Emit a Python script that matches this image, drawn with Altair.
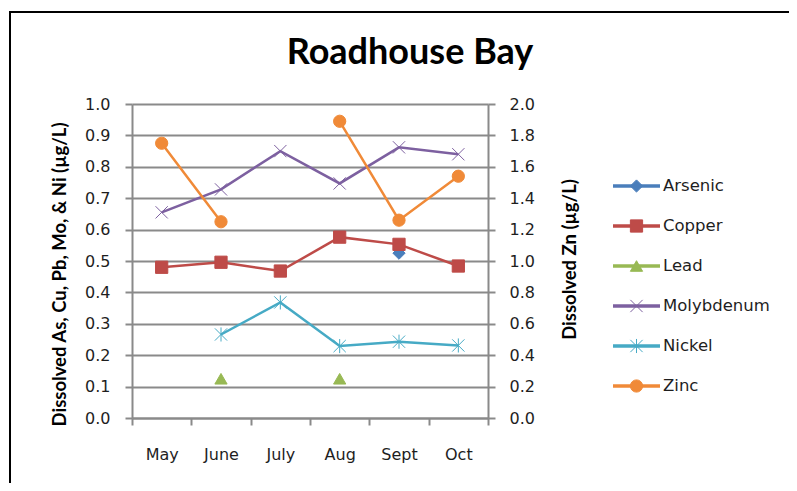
import altair as alt
import pandas as pd

# ---- data ----
months = ["May", "June", "July", "Aug", "Sept", "Oct"]
series_names = ["Arsenic", "Copper", "Lead", "Molybdenum", "Nickel", "Zinc"]
arsenic = [None, None, None, None, 0.525, None]
copper = [0.48, 0.496, 0.468, 0.576, 0.553, 0.484]
lead = [None, 0.125, None, 0.125, None, None]
molybdenum = [0.655, 0.728, 0.85, 0.747, 0.862, 0.84]
nickel = [None, 0.266, 0.368, 0.229, 0.243, 0.231]
zinc = [1.75, 1.25, None, 1.89, 1.26, 1.54]
left_ticks = [0.0, 0.1, 0.2, 0.3, 0.4, 0.5, 0.6, 0.7, 0.8, 0.9, 1.0]
right_ticks = [0.0, 0.2, 0.4, 0.6, 0.8, 1.0, 1.2, 1.4, 1.6, 1.8, 2.0]

# ---- styles ----
colors = ["#4A7EBB", "#BE4B48", "#98B954", "#7D60A0", "#46AAC5", "#F08A38"]
X_PATH = "M-1,-1L1,1M-1,1L1,-1"
AST_PATH = "M-1,-1L1,1M-1,1L1,-1M0,-1.15L0,1.15"
shapes = ["diamond", "square", "triangle-up", X_PATH, AST_PATH, "circle"]
sizes = [150, 150, 170, 90, 90, 170]
stroke_widths = [1, 1, 1, 2.8, 2.8, 1]
FONT = "Lato"
SMALL = "DejaVu Sans"
GRAY = "#8a8a8a"
TXT = "#1e1e1e"

rows = []
for name, vals in zip(series_names[:5], [arsenic, copper, lead, molybdenum, nickel]):
    for m, v in zip(months, vals):
        rows.append({"month": m, "series": name, "value": v})
left_df = pd.DataFrame(rows)
zinc_df = pd.DataFrame({"month": months, "series": ["Zinc"] * len(months), "value": zinc})
legend_df = pd.DataFrame({"series": series_names})

color_enc = alt.Color("series:N", scale=alt.Scale(domain=series_names, range=colors), legend=None)
stroke_enc = alt.Stroke("series:N", scale=alt.Scale(domain=series_names, range=colors), legend=None)
shape_enc = alt.Shape("series:N", scale=alt.Scale(domain=series_names, range=shapes), legend=None)
size_enc = alt.Size("series:N", scale=alt.Scale(domain=series_names, range=sizes), legend=None)
sw_enc = alt.StrokeWidth("series:N", scale=alt.Scale(domain=series_names, range=stroke_widths), legend=None)

x_enc = alt.X(
    "month:N", sort=months, title=None,
    scale=alt.Scale(type="band", paddingInner=0, paddingOuter=0),
    axis=alt.Axis(tickBand="extent", labelAngle=0, domainColor=GRAY, domainWidth=2,
                  tickColor=GRAY, tickWidth=2, tickSize=7, labelPadding=21,
                  labelFont=SMALL, labelFontSize=16, labelColor=TXT, grid=False),
)

left_y = alt.Y(
    "value:Q", scale=alt.Scale(domain=[0, 1]),
    axis=alt.Axis(values=left_ticks, format=".1f", grid=True, gridColor=GRAY, gridWidth=2,
                  domainColor=GRAY, domainWidth=2, tickColor=GRAY, tickWidth=2, tickSize=7,
                  labelPadding=15, labelFont=SMALL, labelFontSize=16, labelColor=TXT,
                  title="Dissolved As, Cu, Pb, Mo, & Ni (µg/L)", titleFont=FONT,
                  titleFontSize=18.5, titleFontWeight="bold", titleColor="black",
                  titleAngle=270, titleX=-73, titleY=170, titleAlign="center",
                  titleBaseline="middle"),
)

right_y = alt.Y(
    "value:Q", scale=alt.Scale(domain=[0, 2]),
    axis=alt.Axis(orient="right", values=right_ticks, format=".1f", grid=False,
                  domainColor=GRAY, domainWidth=2, tickColor=GRAY, tickWidth=2, tickSize=7,
                  labelPadding=14, labelFont=SMALL, labelFontSize=16, labelColor=TXT,
                  title="Dissolved Zn (µg/L)", titleFont=FONT, titleFontSize=18.5,
                  titleFontWeight="bold", titleColor="black", titleAngle=270,
                  titleX=81, titleY=155, titleAlign="center", titleBaseline="middle"),
)

left_line = alt.Chart(left_df).mark_line(strokeWidth=2.5, invalid="break-paths-show-domains").encode(
    x=x_enc, y=left_y, color=color_enc, detail="series:N")
left_pts = alt.Chart(left_df).mark_point(filled=True, opacity=1).encode(
    x=x_enc, y=left_y, color=color_enc, stroke=stroke_enc, shape=shape_enc,
    size=size_enc, strokeWidth=sw_enc)
left = alt.layer(left_line, left_pts)

zinc_line = alt.Chart(zinc_df).mark_line(strokeWidth=2.5, invalid="break-paths-show-domains").encode(
    x=x_enc, y=right_y, color=color_enc)
zinc_pts = alt.Chart(zinc_df).mark_point(filled=True, opacity=1).encode(
    x=x_enc, y=right_y, color=color_enc, stroke=stroke_enc, shape=shape_enc,
    size=size_enc, strokeWidth=sw_enc)
right = alt.layer(zinc_line, zinc_pts)

leg_y = alt.Y("series:N", sort=series_names,
              scale=alt.Scale(type="point", range=[82, 282], padding=0), axis=None)
leg_rule = alt.Chart(legend_df).mark_rule(strokeWidth=3.5).encode(
    x=alt.value(481), x2=alt.value(528), y=leg_y, color=color_enc)
leg_pts = alt.Chart(legend_df).mark_point(filled=True, opacity=1).encode(
    x=alt.value(504.5), y=leg_y, color=color_enc, stroke=stroke_enc, shape=shape_enc,
    size=size_enc, strokeWidth=sw_enc)
leg_txt = alt.Chart(legend_df).mark_text(align="left", baseline="middle", font=SMALL,
                                          fontSize=16.5, color=TXT).encode(
    x=alt.value(531), y=leg_y, text="series:N")
legend = alt.layer(leg_rule, leg_pts, leg_txt)

frame = alt.Chart(legend_df).mark_rect(fillOpacity=0, stroke="black", strokeWidth=2).encode(
    x=alt.value(-122), x2=alt.value(720), y=alt.value(-92), y2=alt.value(460))

chart = alt.layer(frame, left, right, legend).resolve_scale(y="independent").properties(
    width=356, height=314,
    autosize=alt.AutoSizeParams(type="none"),
    padding={"left": 124, "top": 96, "right": 301, "bottom": 65},
    title=alt.Title("Roadhouse Bay", font=FONT, fontSize=36, fontWeight="bold",
                    anchor="middle", dx=100, offset=-89, baseline="alphabetic",
                    color="black"),
).configure_view(strokeWidth=0)

chart.save("out.html", embed_options={"renderer": "svg", "actions": False})
